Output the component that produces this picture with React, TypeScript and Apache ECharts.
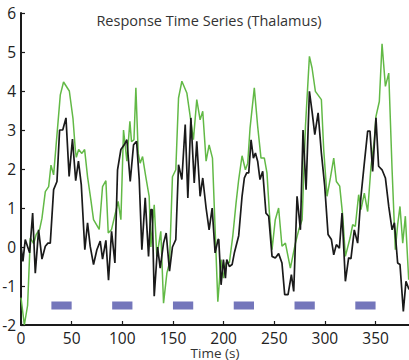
import React, { useEffect, useRef } from "react";
import * as echarts from "echarts";

const titleText = "Response Time Series (Thalamus)";
const xTicks = [0, 50, 100, 150, 200, 250, 300, 350];
const yTicks = [-2, -1, 0, 1, 2, 3, 4, 5, 6];

const greenSeries: [number, number][] = [
  [0, -1.3], [3.3, -2.0], [6.5, -1.5], [9.2, 0.23], [12.5, 0.09], [15, 0.32], [18.4, 0.45], [20.7, 0.74],
  [24, 1.42], [27.3, 1.55], [29.6, 2.1], [32.2, 1.85], [38.8, 3.9], [42, 4.23], [47.7, 4.0], [51.3, 3.3],
  [53.6, 2.5], [54.6, 2.3], [56.9, 2.5], [60.1, 2.4], [62.8, 2.5], [65.7, 1.8], [69, 1.2], [71.6, 0.7],
  [77.2, 0.45], [80.5, 1.55], [83.8, 1.7], [86.1, 0.36], [89.4, 0.45], [95.9, 1.17], [98.6, 0.7],
  [101.2, 3.0], [104.5, 2.2], [107.5, 3.22], [109.1, 2.7], [111.5, 2.75], [113.4, 4.08], [115.7, 2.4],
  [117.6, 2.15], [120, 2.32], [123.2, 1.8], [126.5, 1.3], [128.2, 0.0], [131.5, 1.08], [134.1, -0.24],
  [138, 0.4], [140.7, -1.44], [144, -0.67], [146.6, -0.4], [149.5, 1.8], [152.8, 1.98], [155.5, 3.82],
  [158.8, 4.25], [163.7, 3.95], [167, 3.35], [170.2, 2.75], [173.5, 3.78], [176.8, 3.26], [179.4, 3.48],
  [182.7, 2.2], [185.7, 2.62], [189, 2.28], [194.3, -1.4], [197.5, -0.32], [199.8, -0.8], [202.5, -0.4],
  [205.7, -0.4], [209, 0.27], [212.3, 1.13], [214.9, 1.73], [218.2, 2.34], [221.5, 1.98], [223.8, 2.15],
  [226.1, 3.05], [230.3, 4.08], [233.6, 3.1], [236.9, 2.28], [240.2, 2.28], [242.8, 1.9], [245.1, 0.91],
  [247.8, -0.07], [251, 0.7], [254.3, 1.0], [257.6, 0.02], [261, 0.1], [265.9, -0.54], [270.9, 0.1],
  [274.2, 0.44], [277.5, 0.7], [280.8, 3.1], [284.7, 4.89], [287.3, 4.59], [290.6, 3.99], [296.5, 3.78],
  [298.8, 2.5], [302.1, 1.3], [305.4, 1.77], [308.7, 2.28], [311.3, 1.68], [314.6, 1.56], [317.6, 0.79],
  [320.2, -0.24], [324.8, 0.23], [327.4, 0.57], [330, 0.53], [333.3, 1.34], [335.6, 0.96], [338.9, 1.38],
  [342.2, 0.91], [345.5, 2.07], [348.8, 2.75], [350.4, 3.35], [353.7, 3.73], [356.4, 5.21], [359.7, 4.12],
  [363, 4.46], [366.3, 1.98], [369.5, -0.07], [371.8, 0.57], [374.1, 1.04], [376.8, 0.1], [379.4, 0.79],
  [382.7, -0.84],
];

const blackSeries: [number, number][] = [
  [0, 0.02], [1.9, -0.37], [4.2, 0.19], [5.9, 0.06], [8.5, -0.15], [11.5, 0.87], [14.1, -0.67], [17.4, 0.44],
  [20.7, -0.31], [24, 0.02], [26.6, 0.1], [28.9, 0.1], [32.2, 1.47], [35.5, 1.68], [38.1, 3.0], [41.2, 3.0],
  [44.4, 3.31], [47.5, 1.81], [50.8, 2.77], [54, 1.7], [56.7, 2.2], [59.5, 1.6], [63, -0.07], [65.7, 0.62],
  [68.3, 0.02], [71.6, -0.45], [74.9, -0.07], [78.2, 0.15], [80.5, -0.31], [83.8, 0.17], [86.4, -0.85],
  [89.4, 0.4], [92.7, -0.41], [95.3, 1.98], [98.6, 2.5], [101.9, 2.62], [104.5, 2.75], [107.8, 1.68],
  [111.1, 2.62], [114.1, 2.71], [116.7, 1.73], [119.3, -0.07], [122.6, 1.26], [125.9, -0.24], [128.2, 0.96],
  [129.5, 0.96], [131.5, -1.26], [134.8, 0.0], [137.4, -0.54], [140.7, 0.1], [143.3, 0.36], [146.6, -0.62],
  [149.5, 0.0], [152.8, 0.19], [155.5, 2.11], [158.8, 1.73], [162.1, 3.14], [164.7, 1.26], [167.7, 3.31],
  [171, 1.64], [173.5, 2.71], [176.8, 1.3], [179.4, 1.77], [182.7, 1.0], [185.7, 0.44], [188.7, 1.0],
  [191.6, -0.15], [194.5, 0.19], [195.2, 0.2], [197.5, -0.97], [199.8, -0.32], [201.8, -0.8], [203.1, -0.32],
  [205.7, -0.5], [208.4, -0.45], [210.7, -0.14], [214.9, 0.29], [218.2, 1.3], [220.5, 1.77], [222.8, 1.9],
  [224.8, 1.9], [227.1, 2.75], [229.4, 2.28], [231.4, 2.41], [233.6, 2.2], [235.9, 1.73], [238.6, 1.94],
  [241.8, 0.87], [244.5, 0.79], [247.8, -0.24], [251, -0.28], [254.3, -0.17], [257.6, -0.41], [260.3, -1.22],
  [263.6, -1.22], [266.9, -0.71], [269.2, -1.14], [272.5, 1.3], [275.8, 0.44], [278.4, 3.0], [281.4, 1.47],
  [284.7, 3.99], [287.3, 3.48], [290, 2.88], [293.3, 3.44], [296.5, 2.41], [299.8, 1.56], [303.1, 0.32],
  [306.4, 0.19], [308.7, -0.2], [311.3, 0.06], [314.3, -0.03], [316.9, 0.87], [320.2, -0.88], [323.4, -0.28],
  [325.7, -0.3], [329, 0.44], [332.3, 0.1], [335.6, 1.3], [338.9, 2.15], [342.2, 2.97], [344.5, 2.97],
  [347.1, 1.94], [350.4, 3.31], [353, 2.07], [356.4, 1.98], [359.7, 1.77], [363, 1.04], [366.3, 0.44],
  [368.6, 0.62], [371.8, -0.41], [374.1, -0.45], [377.4, -1.65], [380, -0.88], [383, -1.09],
];

// stimulus blocks: [start, end] in seconds, drawn at level -1.5
const blockStarts = [30, 90, 150, 210, 270, 330];
const blockEnds = [50, 110, 170, 230, 290, 350];
const blockLevel = -1.5;

export default function App() {
  const ref = useRef<HTMLDivElement>(null);
  useEffect(() => {
    document.body.style.margin = "0";
    if (!ref.current) return;
    const chart = echarts.init(ref.current, undefined, { renderer: "svg" });
    const blockData: any[] = [];
    blockStarts.forEach((s, i) => {
      blockData.push([s, blockLevel]);
      blockData.push([blockEnds[i], blockLevel]);
      blockData.push([blockEnds[i], "-"]);
    });
    const font = "'Open Sans', 'Noto Sans', sans-serif";
    chart.setOption({
      animation: false,
      title: {
        text: titleText,
        left: 204,
        top: 8,
        textAlign: "center",
        textStyle: { fontFamily: font, fontSize: 14.5, fontWeight: "normal", color: "#333" },
      },
      grid: { left: 21, right: 0, top: 13, bottom: 35, containLabel: false, outerBoundsMode: "none" },
      xAxis: {
        type: "value",
        min: 0,
        max: 383,
        interval: 50,
        name: "Time (s)",
        nameLocation: "middle",
        nameGap: 22,
        nameMoveOverlap: false,
        nameTextStyle: { fontFamily: font, fontSize: 13.5, color: "#333", verticalAlign: "top", lineHeight: 12 },
        axisLine: { show: true, onZero: false, lineStyle: { color: "#1a1a1a", width: 2 } },
        axisTick: { show: true, inside: true, length: 4, lineStyle: { color: "#1a1a1a", width: 1.2 } },
        axisLabel: { fontFamily: font, fontSize: 15.5, color: "#222", margin: 5, lineHeight: 16, showMaxLabel: false },
        splitLine: { show: false },
      },
      yAxis: {
        type: "value",
        min: -2,
        max: 6,
        interval: 1,
        axisLine: { show: true, onZero: false, lineStyle: { color: "#1a1a1a", width: 2 } },
        axisTick: { show: true, inside: true, length: 4, lineStyle: { color: "#1a1a1a", width: 1.2 } },
        axisLabel: { fontFamily: font, fontSize: 15.5, color: "#222", margin: 5 },
        splitLine: { show: false },
      },
      series: [
        {
          type: "line",
          data: blockData,
          showSymbol: false,
          connectNulls: false,
          lineStyle: { color: "#7476bb", width: 8, cap: "butt" },
          z: 1,
        },
        {
          type: "line",
          data: greenSeries,
          showSymbol: false,
          lineStyle: { color: "#62b946", width: 1.5 },
          z: 2,
        },
        {
          type: "line",
          data: blackSeries,
          showSymbol: false,
          lineStyle: { color: "#1a1a1a", width: 1.7 },
          z: 3,
        },
      ],
    });
    return () => chart.dispose();
  }, []);
  return <div ref={ref} style={{ width: 409, height: 360 }} />;
}
